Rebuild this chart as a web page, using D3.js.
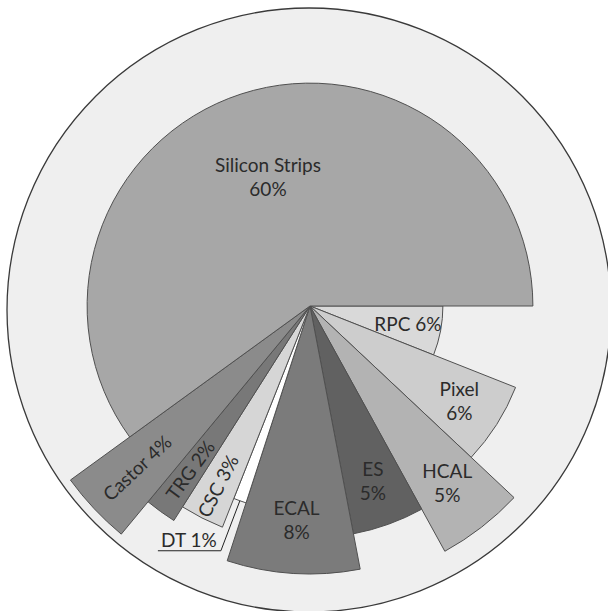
<!DOCTYPE html>
<html>
<head>
<meta charset="utf-8">
<script src="https://cdn.jsdelivr.net/npm/d3@7"></script>
<style>
body { margin: 0; background: #fff; }
text { font-family: Lato, "Open Sans", sans-serif; fill: #2b2b2b; }
</style>
</head>
<body>
<div id="chart"></div>
<script>
// slices clockwise, starting at 3 o'clock
var categories = ["RPC", "Pixel", "HCAL", "ES", "ECAL", "DT", "CSC", "TRG", "Castor", "Silicon Strips"];
var shares = [6, 6, 5, 5, 8, 1, 3, 2, 4, 60];
// relative slice depth (100 = outer ring)
var depth = [44.3, 73.7, 93.3, 77.3, 89.3, 69, 79.3, 84.7, 98.7, 74.3];
var fills = ["#d9d9d9", "#cdcdcd", "#b3b3b3", "#616161", "#7b7b7b", "#ffffff", "#d6d6d6", "#787878", "#8b8b8b", "#a7a7a7"];

var width = 608, height = 611;

var data = categories.map(function(c, i) {
    return {name: c, value: shares[i], depth: depth[i], fill: fills[i]};
});

var svg = d3.select("#chart").append("svg")
    .attr("width", width)
    .attr("height", height);

var r = d3.scaleLinear().domain([0, 100]).range([0, 300]);

// background ring
svg.append("circle")
    .attr("cx", 309)
    .attr("cy", 310)
    .attr("r", r(100) + 2)
    .attr("fill", "#efefef")
    .attr("stroke", "#3a3a3a")
    .attr("stroke-width", 1.3);

var g = svg.append("g")
    .attr("transform", "translate(310,306)");

var pie = d3.pie()
    .sort(null)
    .value(function(d) { return d.value; })
    .startAngle(Math.PI / 2)
    .endAngle(Math.PI / 2 + 2 * Math.PI);

var arcs = pie(data);

var arc = d3.arc()
    .innerRadius(0)
    .outerRadius(function(d) { return r(d.data.depth); });

g.selectAll("path.slice")
    .data(arcs)
    .enter().append("path")
    .attr("class", "slice")
    .attr("d", arc)
    .attr("fill", function(d) { return d.data.fill; })
    .attr("stroke", "#505050")
    .attr("stroke-width", 1)
    .attr("stroke-linejoin", "miter");

var twoLine = ["Silicon Strips", "Pixel", "HCAL", "ES", "ECAL"];
var rotated = ["Castor", "TRG", "CSC"];

function labelPos(d, f) {
    var a = (d.startAngle + d.endAngle) / 2,
        rr = r(d.data.depth) * f;
    return [rr * Math.sin(a), -rr * Math.cos(a)];
}

arcs.forEach(function(d) {
    var name = d.data.name, pct = d.data.value + "%";
    if (name == "DT") {
        // outside label with leader line
        var p = labelPos(d, 1);
        var elbow = [p[0] - 19, p[1] + 50];
        g.append("polyline")
            .attr("points", [[elbow[0] - 63, elbow[1]], elbow, p].map(function(q) { return q.join(","); }).join(" "))
            .attr("fill", "none")
            .attr("stroke", "#222")
            .attr("stroke-width", 1);
        g.append("text")
            .attr("x", elbow[0] - 32)
            .attr("y", elbow[1] - 4)
            .attr("text-anchor", "middle")
            .attr("font-size", 19)
            .text(name + " " + pct);
        return;
    }
    var f = d.data.value > 50 ? 0.61 : (name == "RPC" ? 0.75 : (name == "CSC" ? 0.85 : 0.8));
    var p = labelPos(d, f);
    var t = g.append("text")
        .attr("text-anchor", "middle")
        .attr("font-size", 19);
    if (twoLine.indexOf(name) >= 0) {
        t.attr("transform", "translate(" + p[0] + "," + p[1] + ")");
        t.append("tspan").attr("x", 0).attr("y", -5).text(name);
        t.append("tspan").attr("x", 0).attr("y", 19).text(pct);
    } else {
        var rot = 0;
        if (rotated.indexOf(name) >= 0) {
            var a = (d.startAngle + d.endAngle) / 2;
            rot = a * 180 / Math.PI - 270;
        }
        t.attr("transform", "translate(" + p[0] + "," + p[1] + ") rotate(" + rot + ")")
            .attr("dy", "0.35em")
            .text(name + " " + pct);
    }
});
</script>
</body>
</html>
